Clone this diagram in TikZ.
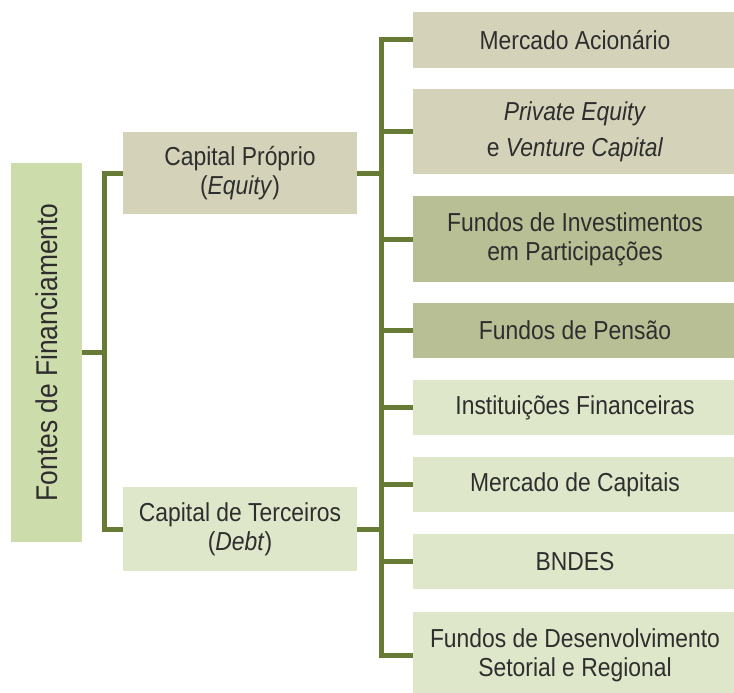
\documentclass[tikz,border=0pt]{standalone}
\usepackage{fontspec}
\setmainfont{Liberation Sans}[FakeStretch=0.88]
\definecolor{linec}{HTML}{677B35}
\definecolor{rootc}{HTML}{CDDCAB}
\definecolor{beigec}{HTML}{D4D3B9}
\definecolor{olivec}{HTML}{B8BF95}
\definecolor{lightc}{HTML}{DFE7CA}
\definecolor{txtc}{HTML}{2E2E2E}
\begin{document}
\begin{tikzpicture}[x=1pt,y=-1pt,
  box/.style={rectangle,inner sep=0pt,align=center,text=txtc,
    font=\fontsize{26}{29}\selectfont},
  rbox/.style={box,minimum width=324pt},
  mbox/.style={box,minimum width=234pt},
  conn/.style={draw=linec,line width=5pt,line join=miter}]
\useasboundingbox (0,0) rectangle (734,693);
% root
\node[box,fill=rootc,rotate=90,minimum width=379pt,minimum height=71pt,
  font=\fontsize{30}{32}\selectfont] (root) at (46.5,352.5) {Fontes de Financiamento};
% middle
\node[mbox,fill=beigec,minimum height=82pt] (cp) at (240,173) {Capital Próprio\\(\textit{Equity})};
\node[mbox,fill=lightc,minimum height=84pt] (ct) at (240,529) {Capital de Terceiros\\(\textit{Debt})};
% right
\node[rbox,fill=beigec,minimum height=56pt] (r1) at (575,40) {Mercado Acionário};
\node[rbox,fill=beigec,minimum height=85pt,font=\fontsize{26}{36}\selectfont] (r2) at (575,131.5) {\textit{Private Equity}\\e \textit{Venture Capital}};
\node[rbox,fill=olivec,minimum height=86pt] (r3) at (575,239) {Fundos de Investimentos\\em Participações};
\node[rbox,fill=olivec,minimum height=55pt] (r4) at (575,330.5) {Fundos de Pensão};
\node[rbox,fill=lightc,minimum height=55pt] (r5) at (575,407.5) {Instituições Financeiras};
\node[rbox,fill=lightc,minimum height=55pt] (r6) at (575,484.5) {Mercado de Capitais};
\node[rbox,fill=lightc,minimum height=55pt] (r7) at (575,561.5) {BNDES};
\node[rbox,fill=lightc,minimum height=86pt] (r8) at (575,655) {Fundos de Desenvolvimento\\Setorial e Regional};
% bracket coordinates
\coordinate (bL) at (104.5,0);
\coordinate (bR) at (381,0);
% left bracket
\draw[conn] (cp.west) -- (cp.west -| bL) -- (ct.west -| bL) -- (ct.west);
\draw[conn] (root.south) -- (root.south -| bL);
% right bracket
\draw[conn] (r1.west) -- (r1.west -| bR) -- (r8.west -| bR) -- (r8.west);
\foreach \n in {r2,r3,r4,r5,r6,r7}{
  \draw[conn] (\n.west -| bR) -- (\n.west);
}
\draw[conn] (cp.east) -- (cp.east -| bR);
\draw[conn] (ct.east) -- (ct.east -| bR);
\end{tikzpicture}
\end{document}
